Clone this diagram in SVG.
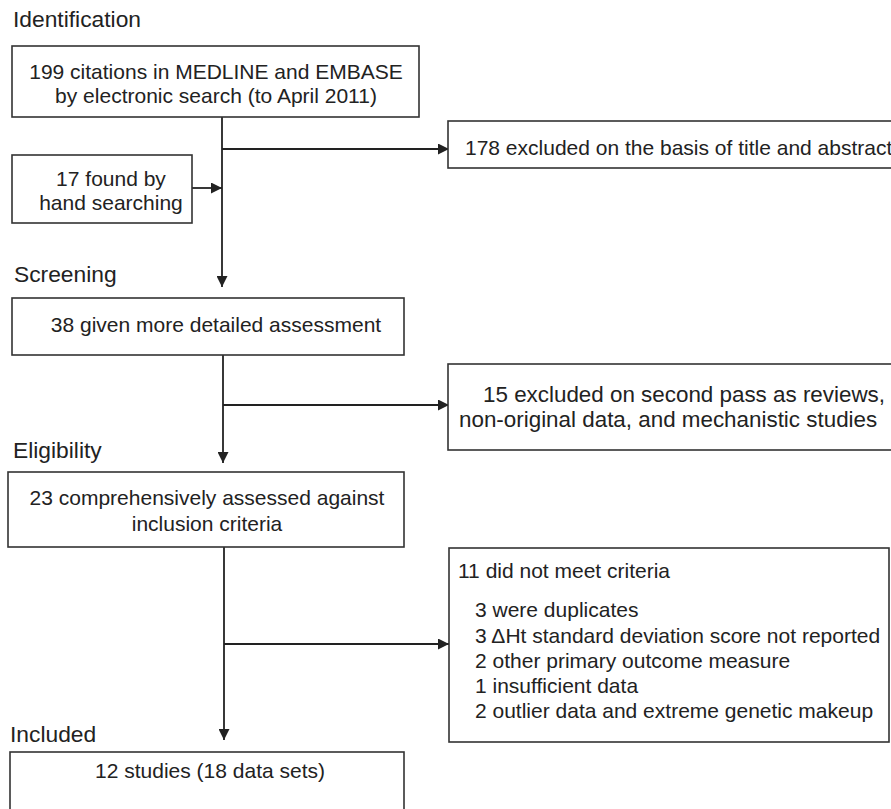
<svg xmlns="http://www.w3.org/2000/svg" width="891" height="809" viewBox="0 0 891 809">
<defs>
<style>
.box{fill:#fff;stroke:#333;stroke-width:1.6}
.t{font-family:"Liberation Sans",Arial,sans-serif;font-size:21px;fill:#222}
.b{font-family:"Liberation Sans",Arial,sans-serif;font-size:22.4px;fill:#222}
.h{font-family:"Liberation Sans",Arial,sans-serif;font-size:22.8px;fill:#222}
.c{text-anchor:middle}
.ln{stroke:#222;stroke-width:1.8;fill:none}
</style>
<marker id="ah" markerUnits="userSpaceOnUse" markerWidth="11" markerHeight="11" viewBox="0 0 11 11" refX="11" refY="5.5" orient="auto">
<path d="M0,0 L11,5.5 L0,11 z" fill="#222"/>
</marker>
</defs>
<rect width="891" height="809" fill="#fff"/>
<g id="labels">
<text class="h" x="13" y="27">Identification</text>
<text class="h" x="14" y="282">Screening</text>
<text class="h" x="13" y="458">Eligibility</text>
<text class="h" x="10" y="742">Included</text>
</g>
<g id="connectors">
<line class="ln" x1="222" y1="117" x2="222" y2="287" marker-end="url(#ah)"/>
<line class="ln" x1="222" y1="149" x2="449" y2="149" marker-end="url(#ah)"/>
<line class="ln" x1="192" y1="188" x2="222" y2="188" marker-end="url(#ah)"/>
<line class="ln" x1="223" y1="355" x2="223" y2="463" marker-end="url(#ah)"/>
<line class="ln" x1="223" y1="405" x2="449" y2="405" marker-end="url(#ah)"/>
<line class="ln" x1="224" y1="547" x2="224" y2="740" marker-end="url(#ah)"/>
<line class="ln" x1="224" y1="644" x2="449" y2="644" marker-end="url(#ah)"/>
</g>
<g id="n1">
<rect class="box" x="12" y="46" width="407" height="71"/>
<text class="t c" x="216" y="79">199 citations in MEDLINE and EMBASE</text>
<text class="t c" x="216" y="103">by electronic search (to April 2011)</text>
</g>
<g id="n2">
<rect class="box" x="12" y="155" width="180" height="68"/>
<text class="t c" x="111" y="186">17 found by</text>
<text class="t c" x="111" y="210">hand searching</text>
</g>
<g id="n3">
<rect class="box" x="448" y="121" width="460" height="47"/>
<text class="t" x="465" y="155">178 excluded on the basis of title and abstract</text>
</g>
<g id="n4">
<rect class="box" x="12" y="298" width="392" height="57"/>
<text class="t c" x="216" y="332">38 given more detailed assessment</text>
</g>
<g id="n5">
<rect class="box" x="448" y="364" width="460" height="86"/>
<text class="b" x="483" y="402">15 excluded on second pass as reviews,</text>
<text class="b" x="459" y="427">non-original data, and mechanistic studies</text>
</g>
<g id="n6">
<rect class="box" x="8" y="472" width="396" height="75"/>
<text class="t c" x="207" y="505">23 comprehensively assessed against</text>
<text class="t c" x="207" y="531">inclusion criteria</text>
</g>
<g id="n7">
<rect class="box" x="449" y="548" width="440" height="194"/>
<text class="t" x="458" y="578">11 did not meet criteria</text>
<text class="t" x="475" y="617">3 were duplicates</text>
<text class="t" x="475" y="643">3 ΔHt standard deviation score not reported</text>
<text class="t" x="475" y="668">2 other primary outcome measure</text>
<text class="t" x="475" y="693">1 insufficient data</text>
<text class="t" x="475" y="718">2 outlier data and extreme genetic makeup</text>
</g>
<g id="n8">
<rect class="box" x="10" y="752" width="394" height="80"/>
<text class="t c" x="210" y="778">12 studies (18 data sets)</text>
</g>
</svg>
